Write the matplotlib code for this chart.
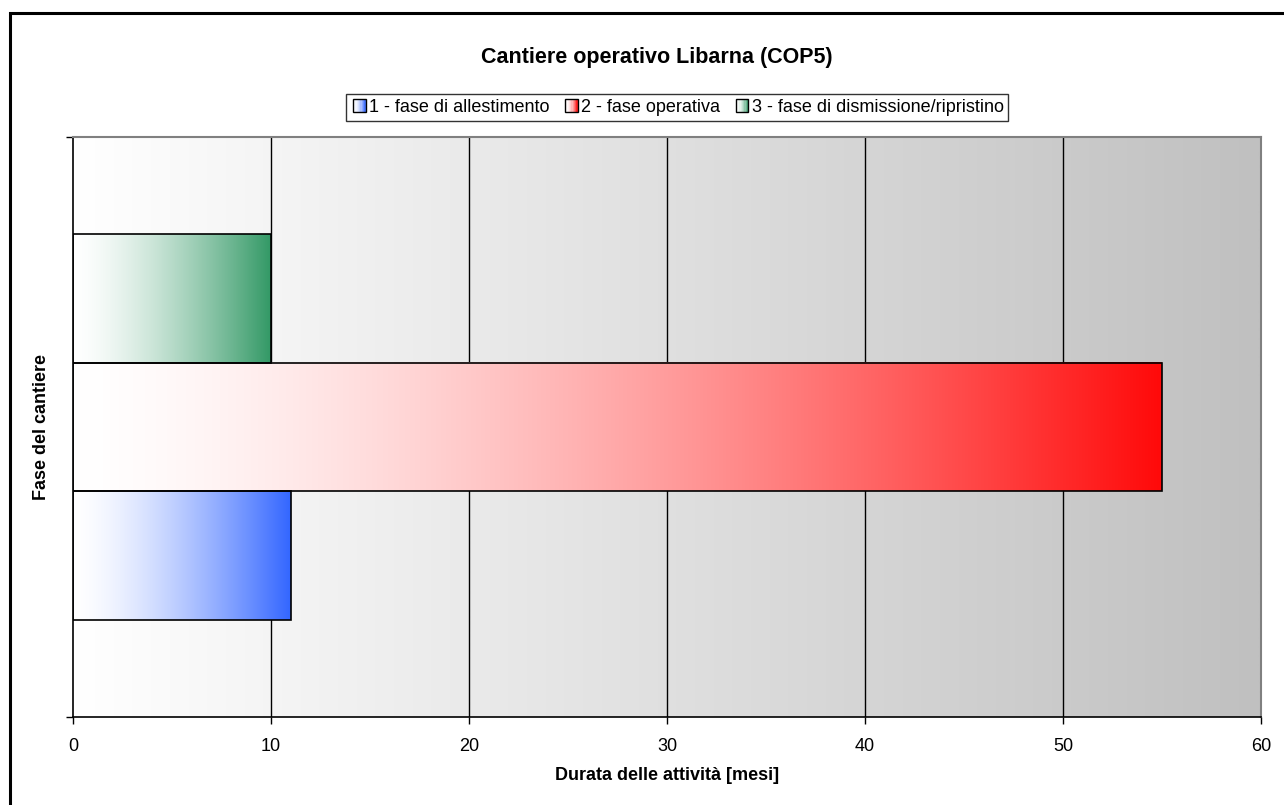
import matplotlib
matplotlib.use("Agg")

import numpy as np
import matplotlib.pyplot as plt
from matplotlib.colors import LinearSegmentedColormap, to_rgb
from matplotlib.patches import Rectangle
from matplotlib.legend_handler import HandlerBase

plt.rcParams['font.family'] = ['Liberation Sans', 'DejaVu Sans']

# data
phases = ["1 - fase di allestimento", "2 - fase operativa", "3 - fase di dismissione/ripristino"]
durations = [11, 55, 10]
colors = ["#3366ff", "#ff0a0a", "#339966"]
x_ticks = [0, 10, 20, 30, 40, 50, 60]

title = "Cantiere operativo Libarna (COP5)"
xlabel = "Durata delle attività [mesi]"
ylabel = "Fase del cantiere"


def gradient_rgb(color, n=256, power=1.5):
    # white -> color, horizontal
    c = np.array(to_rgb(color))
    t = np.linspace(0, 1, n) ** power
    rgb = (1 - t)[:, None] * np.ones(3) + t[:, None] * c
    return rgb[None, :, :]


fig = plt.figure(figsize=(12.84, 8.05), dpi=100)
ax = fig.add_axes([73 / 1284, 1 - 717 / 805, (1261 - 73) / 1284, 580 / 805])

# plot area background: white -> grey gradient
bg = LinearSegmentedColormap.from_list("bg", ["#ffffff", "#c0c0c0"])
ax.imshow(np.linspace(0, 1, 512)[None, :], cmap=bg, extent=[0, 60, 0, 1],
          aspect="auto", zorder=0, interpolation="bilinear")

for x in x_ticks[1:-1]:
    ax.axvline(x, color="black", lw=1, zorder=1)

# bars (gap width 150% -> bar height 1/4.5)
h = 1 / 4.5
for i, (d, c) in enumerate(zip(durations, colors)):
    y0 = 0.5 - 1.5 * h + i * h
    ax.imshow(gradient_rgb(c), extent=[0, d, y0, y0 + h], aspect="auto",
              zorder=2, interpolation="bilinear")
    rect = Rectangle((0, y0), d, h, facecolor="none", edgecolor="black", lw=1.2, zorder=3)
    ax.add_patch(rect)

ax.set_xlim(0, 60)
ax.set_ylim(0, 1)
ax.set_xticks(x_ticks)
ax.set_yticks([0, 1])
ax.set_yticklabels([])
ax.tick_params(axis="both", direction="out", length=5, width=1, labelsize=13, colors="black")
ax.tick_params(axis="x", pad=10)

for side in ["top", "right"]:
    ax.spines[side].set_color("#808080")
    ax.spines[side].set_linewidth(1.5)
for side in ["left", "bottom"]:
    ax.spines[side].set_color("black")
    ax.spines[side].set_linewidth(1.2)

ax.set_xlabel(xlabel, fontsize=13, fontweight="bold", labelpad=9)
ax.set_ylabel(ylabel, fontsize=13, fontweight="bold", labelpad=8)

fig.text(657 / 1284, 1 - 57 / 805, title, ha="center", va="center",
         fontsize=15.5, fontweight="bold")


class GradientHandler(HandlerBase):
    def create_artists(self, legend, orig_handle, xdescent, ydescent, width,
                       height, fontsize, trans):
        c = np.array(to_rgb(orig_handle.get_facecolor()))
        n = 10
        side = height * 1.0
        x0 = xdescent + width - side
        y0 = -ydescent + (height - side) / 2
        arts = []
        for k in range(n):
            t = ((k + 0.5) / n) ** 2
            col = (1 - t) + t * c
            r = Rectangle((x0 + k * side / n, y0), side / n, side,
                          facecolor=col, edgecolor="none", transform=trans)
            arts.append(r)
        arts.append(Rectangle((x0, y0), side, side, facecolor="none",
                              edgecolor="black", lw=1, transform=trans))
        return arts


handles = [Rectangle((0, 0), 1, 1, facecolor=c) for c in colors]
leg = fig.legend(handles, phases, loc="center", bbox_to_anchor=(677 / 1284, 1 - 107.5 / 805),
                 ncol=3, fontsize=13, frameon=True, fancybox=False, edgecolor="black",
                 handler_map={Rectangle: GradientHandler()}, handlelength=0.85,
                 handletextpad=0.2, columnspacing=0.7, borderpad=0.25, borderaxespad=0)
leg.get_frame().set_linewidth(1)

# outer chart border (right/bottom run off the picture)
fig.patches.append(Rectangle((10 / 1284, -0.05), 1.1, 1 - 13 / 805 + 0.05,
                             transform=fig.transFigure, facecolor="none",
                             edgecolor="black", lw=2.2, zorder=10))

fig.savefig("out.png", dpi=100)
